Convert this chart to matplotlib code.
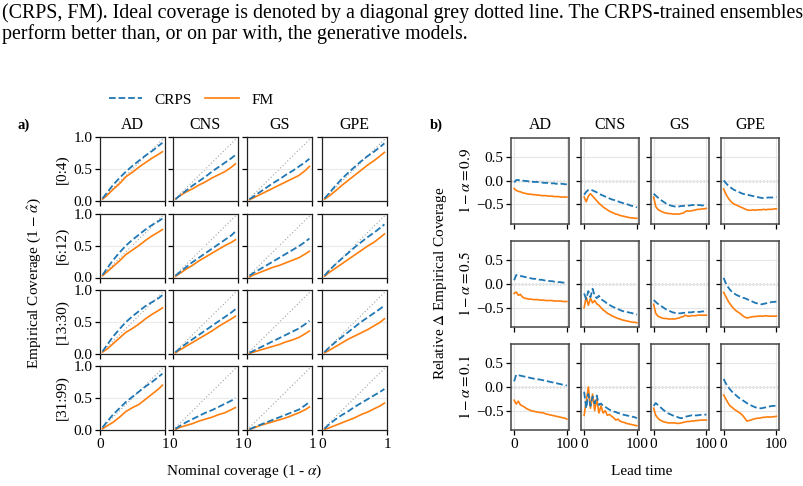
import numpy as np
import matplotlib
matplotlib.use("Agg")
import matplotlib.pyplot as plt
from matplotlib.lines import Line2D

plt.rcParams['font.family'] = ['Liberation Serif', 'DejaVu Serif']
plt.rcParams['mathtext.fontset'] = 'stix'
plt.rcParams['axes.unicode_minus'] = True

# ---------------- data ----------------
systems = ["AD", "CNS", "GS", "GPE"]
lead_bins = ["[0:4)", "[6:12)", "[13:30)", "[31:99)"]
nominal = [0.04, 0.1, 0.2, 0.3, 0.4, 0.5, 0.6, 0.7, 0.8, 0.9, 0.96]

# coverage curves: [lead bin][system]
cov_crps = [
    [[0.04, 0.12, 0.25, 0.36, 0.46, 0.55, 0.63, 0.71, 0.78, 0.86, 0.91],
     [0.03, 0.08, 0.16, 0.24, 0.31, 0.38, 0.46, 0.53, 0.60, 0.67, 0.72],
     [0.03, 0.07, 0.14, 0.21, 0.28, 0.34, 0.41, 0.47, 0.54, 0.61, 0.66],
     [0.04, 0.11, 0.23, 0.34, 0.44, 0.53, 0.62, 0.70, 0.77, 0.85, 0.90]],
    [[0.04, 0.13, 0.27, 0.39, 0.50, 0.59, 0.67, 0.75, 0.82, 0.88, 0.92],
     [0.03, 0.08, 0.16, 0.24, 0.31, 0.38, 0.45, 0.52, 0.59, 0.66, 0.72],
     [0.03, 0.07, 0.13, 0.19, 0.25, 0.31, 0.37, 0.43, 0.49, 0.56, 0.61],
     [0.03, 0.10, 0.20, 0.29, 0.38, 0.47, 0.55, 0.63, 0.70, 0.78, 0.83]],
    [[0.04, 0.13, 0.27, 0.39, 0.50, 0.59, 0.67, 0.75, 0.81, 0.87, 0.92],
     [0.03, 0.08, 0.16, 0.23, 0.30, 0.37, 0.44, 0.51, 0.58, 0.65, 0.70],
     [0.02, 0.05, 0.10, 0.15, 0.20, 0.25, 0.30, 0.35, 0.40, 0.47, 0.52],
     [0.03, 0.09, 0.18, 0.26, 0.34, 0.42, 0.50, 0.57, 0.64, 0.71, 0.76]],
    [[0.04, 0.12, 0.24, 0.34, 0.44, 0.52, 0.60, 0.68, 0.75, 0.83, 0.88],
     [0.02, 0.06, 0.12, 0.17, 0.22, 0.27, 0.31, 0.36, 0.41, 0.46, 0.50],
     [0.01, 0.04, 0.08, 0.12, 0.16, 0.20, 0.24, 0.28, 0.32, 0.39, 0.44],
     [0.02, 0.08, 0.16, 0.23, 0.29, 0.36, 0.42, 0.48, 0.54, 0.60, 0.64]],
]
cov_fm = [
    [[0.03, 0.08, 0.18, 0.27, 0.38, 0.45, 0.53, 0.60, 0.67, 0.73, 0.77],
     [0.03, 0.08, 0.14, 0.19, 0.25, 0.30, 0.36, 0.41, 0.46, 0.53, 0.58],
     [0.02, 0.05, 0.10, 0.15, 0.20, 0.25, 0.30, 0.35, 0.40, 0.48, 0.54],
     [0.03, 0.07, 0.15, 0.24, 0.32, 0.40, 0.48, 0.56, 0.63, 0.71, 0.76]],
    [[0.03, 0.08, 0.17, 0.26, 0.36, 0.43, 0.50, 0.58, 0.65, 0.71, 0.75],
     [0.02, 0.06, 0.13, 0.19, 0.26, 0.32, 0.38, 0.44, 0.50, 0.55, 0.59],
     [0.01, 0.04, 0.08, 0.12, 0.16, 0.19, 0.23, 0.27, 0.31, 0.37, 0.41],
     [0.02, 0.07, 0.14, 0.21, 0.28, 0.35, 0.42, 0.49, 0.55, 0.63, 0.68]],
    [[0.03, 0.07, 0.16, 0.25, 0.34, 0.40, 0.47, 0.55, 0.62, 0.68, 0.72],
     [0.02, 0.06, 0.12, 0.18, 0.24, 0.30, 0.36, 0.43, 0.49, 0.55, 0.59],
     [0.01, 0.03, 0.06, 0.09, 0.12, 0.15, 0.19, 0.22, 0.26, 0.32, 0.36],
     [0.02, 0.05, 0.11, 0.17, 0.23, 0.28, 0.33, 0.38, 0.44, 0.50, 0.55]],
    [[0.02, 0.06, 0.12, 0.20, 0.29, 0.35, 0.40, 0.48, 0.56, 0.64, 0.70],
     [0.01, 0.04, 0.07, 0.10, 0.14, 0.17, 0.20, 0.24, 0.27, 0.32, 0.35],
     [0.01, 0.03, 0.07, 0.10, 0.13, 0.16, 0.19, 0.23, 0.27, 0.32, 0.36],
     [0.01, 0.03, 0.07, 0.11, 0.15, 0.19, 0.24, 0.28, 0.33, 0.38, 0.42]],
]

levels = ["$1-\\alpha=0.9$", "$1-\\alpha=0.5$", "$1-\\alpha=0.1$"]
lead = [0, 4, 8, 12, 16, 20, 24, 28, 32, 36, 40, 44, 48, 52, 56, 60,
        64, 68, 72, 76, 80, 84, 88, 92, 96, 100]

# relative delta coverage: [level][system]
rel_crps = [
    [[-0.04, 0.01, 0.01, 0.00, 0.00, -0.01, -0.01, -0.02, -0.02, -0.03, -0.03, -0.03, -0.04, -0.04, -0.05, -0.05, -0.05, -0.06, -0.06, -0.06, -0.07, -0.07, -0.07, -0.07, -0.08, -0.08],
     [-0.30, -0.24, -0.20, -0.19, -0.21, -0.23, -0.25, -0.28, -0.30, -0.32, -0.34, -0.36, -0.38, -0.40, -0.41, -0.43, -0.44, -0.46, -0.47, -0.49, -0.50, -0.51, -0.53, -0.54, -0.55, -0.57],
     [-0.28, -0.32, -0.36, -0.40, -0.43, -0.46, -0.49, -0.51, -0.53, -0.54, -0.55, -0.55, -0.55, -0.54, -0.54, -0.53, -0.53, -0.53, -0.52, -0.52, -0.53, -0.52, -0.52, -0.53, -0.52, -0.52],
     [0.00, -0.05, -0.10, -0.14, -0.17, -0.20, -0.22, -0.24, -0.26, -0.28, -0.29, -0.30, -0.31, -0.32, -0.33, -0.34, -0.35, -0.36, -0.37, -0.37, -0.37, -0.36, -0.36, -0.36, -0.35, -0.35]],
    [[0.08, 0.19, 0.18, 0.17, 0.16, 0.15, 0.14, 0.13, 0.12, 0.11, 0.11, 0.10, 0.09, 0.09, 0.08, 0.07, 0.07, 0.06, 0.06, 0.05, 0.05, 0.04, 0.04, 0.03, 0.03, 0.02],
     [-0.20, -0.32, -0.15, -0.28, -0.10, -0.25, -0.30, -0.25, -0.32, -0.35, -0.38, -0.42, -0.44, -0.47, -0.49, -0.51, -0.53, -0.55, -0.57, -0.58, -0.59, -0.60, -0.61, -0.62, -0.63, -0.65],
     [-0.34, -0.38, -0.42, -0.45, -0.48, -0.51, -0.54, -0.56, -0.58, -0.60, -0.61, -0.62, -0.62, -0.62, -0.61, -0.61, -0.60, -0.60, -0.60, -0.59, -0.59, -0.59, -0.59, -0.58, -0.58, -0.58],
     [0.13, 0.02, -0.06, -0.12, -0.17, -0.20, -0.23, -0.25, -0.27, -0.29, -0.30, -0.32, -0.34, -0.36, -0.38, -0.40, -0.41, -0.42, -0.43, -0.42, -0.41, -0.40, -0.39, -0.38, -0.38, -0.37]],
    [[0.12, 0.26, 0.25, 0.24, 0.23, 0.22, 0.21, 0.20, 0.19, 0.18, 0.17, 0.16, 0.16, 0.15, 0.14, 0.13, 0.12, 0.11, 0.10, 0.09, 0.08, 0.07, 0.06, 0.05, 0.04, 0.03],
     [-0.10, -0.45, -0.15, -0.40, -0.20, -0.35, -0.18, -0.38, -0.35, -0.40, -0.42, -0.45, -0.48, -0.50, -0.52, -0.53, -0.55, -0.56, -0.58, -0.59, -0.60, -0.61, -0.62, -0.63, -0.64, -0.66],
     [-0.40, -0.34, -0.38, -0.42, -0.46, -0.50, -0.53, -0.56, -0.58, -0.60, -0.62, -0.63, -0.65, -0.66, -0.65, -0.63, -0.62, -0.61, -0.60, -0.61, -0.60, -0.60, -0.59, -0.59, -0.59, -0.58],
     [0.17, 0.08, 0.01, -0.05, -0.10, -0.14, -0.18, -0.22, -0.25, -0.28, -0.31, -0.34, -0.37, -0.39, -0.41, -0.43, -0.44, -0.45, -0.45, -0.44, -0.43, -0.42, -0.41, -0.40, -0.40, -0.39]],
]
rel_fm = [
    [[-0.17, -0.21, -0.23, -0.24, -0.26, -0.27, -0.28, -0.29, -0.29, -0.30, -0.30, -0.31, -0.31, -0.32, -0.32, -0.32, -0.33, -0.33, -0.33, -0.34, -0.34, -0.34, -0.35, -0.35, -0.35, -0.35],
     [-0.35, -0.45, -0.33, -0.28, -0.33, -0.38, -0.43, -0.48, -0.52, -0.56, -0.59, -0.62, -0.65, -0.67, -0.69, -0.71, -0.72, -0.74, -0.75, -0.76, -0.77, -0.78, -0.79, -0.79, -0.80, -0.80],
     [-0.35, -0.55, -0.61, -0.64, -0.66, -0.68, -0.69, -0.70, -0.70, -0.71, -0.71, -0.71, -0.71, -0.70, -0.69, -0.66, -0.64, -0.65, -0.64, -0.63, -0.62, -0.61, -0.61, -0.60, -0.60, -0.59],
     [-0.18, -0.28, -0.36, -0.42, -0.47, -0.50, -0.52, -0.54, -0.56, -0.58, -0.60, -0.62, -0.63, -0.63, -0.62, -0.63, -0.62, -0.62, -0.62, -0.61, -0.62, -0.61, -0.61, -0.61, -0.60, -0.60]],
    [[-0.20, -0.17, -0.24, -0.22, -0.28, -0.30, -0.31, -0.32, -0.32, -0.33, -0.33, -0.33, -0.34, -0.34, -0.34, -0.35, -0.35, -0.35, -0.35, -0.36, -0.36, -0.36, -0.36, -0.37, -0.37, -0.37],
     [-0.50, -0.28, -0.45, -0.30, -0.40, -0.35, -0.42, -0.45, -0.50, -0.55, -0.58, -0.62, -0.64, -0.67, -0.69, -0.71, -0.73, -0.74, -0.76, -0.77, -0.78, -0.79, -0.80, -0.81, -0.81, -0.82],
     [-0.43, -0.62, -0.68, -0.70, -0.72, -0.73, -0.73, -0.74, -0.74, -0.74, -0.74, -0.73, -0.72, -0.70, -0.69, -0.66, -0.68, -0.68, -0.67, -0.67, -0.67, -0.66, -0.66, -0.66, -0.66, -0.66],
     [-0.18, -0.26, -0.35, -0.42, -0.48, -0.53, -0.57, -0.60, -0.63, -0.67, -0.70, -0.72, -0.71, -0.70, -0.69, -0.69, -0.68, -0.68, -0.68, -0.68, -0.67, -0.68, -0.68, -0.68, -0.68, -0.68]],
    [[-0.28, -0.36, -0.30, -0.38, -0.40, -0.43, -0.46, -0.48, -0.50, -0.51, -0.52, -0.53, -0.54, -0.54, -0.55, -0.57, -0.58, -0.59, -0.60, -0.61, -0.62, -0.63, -0.64, -0.65, -0.66, -0.68],
     [-0.60, -0.30, 0.00, -0.45, -0.15, -0.50, -0.25, -0.55, -0.40, -0.55, -0.50, -0.60, -0.58, -0.62, -0.65, -0.70, -0.68, -0.72, -0.74, -0.75, -0.77, -0.78, -0.79, -0.80, -0.81, -0.82],
     [-0.45, -0.60, -0.66, -0.70, -0.72, -0.74, -0.75, -0.76, -0.76, -0.76, -0.76, -0.77, -0.77, -0.76, -0.75, -0.74, -0.73, -0.73, -0.72, -0.72, -0.71, -0.71, -0.70, -0.70, -0.70, -0.70],
     [-0.17, -0.25, -0.33, -0.40, -0.43, -0.47, -0.50, -0.53, -0.56, -0.60, -0.66, -0.72, -0.71, -0.70, -0.68, -0.67, -0.66, -0.66, -0.65, -0.64, -0.64, -0.63, -0.64, -0.63, -0.63, -0.62]],
]

caption_lines = [
    "(CRPS, FM). Ideal coverage is denoted by a diagonal grey dotted line. The CRPS-trained ensembles",
    "perform better than, or on par with, the generative models.",
]

C_CRPS = "#1f77b4"
C_FM = "#ff7f0e"

# ---------------- figure ----------------
W, H = 804, 486
fig = plt.figure(figsize=(W / 100, H / 100), dpi=100)


def px_axes(left, top, width, height):
    return fig.add_axes([left / W, 1 - (top + height) / H, width / W, height / H])


TICK_FS = 11
TITLE_FS = 11.5
LABEL_FS = 11

# left panel (a)
l_lefts = [100, 173, 247, 322]
l_tops = [137, 213.5, 290, 366]
l_w, l_h = 65, 64
for r in range(4):
    for c in range(4):
        ax = px_axes(l_lefts[c], l_tops[r], l_w, l_h)
        ax.plot([0, 1], [0, 1], ls=(0, (1, 2)), color="#a0a0a0", lw=0.8, zorder=1)
        ax.plot(nominal, cov_crps[r][c], ls="--", color=C_CRPS, lw=1.3, zorder=3)
        ax.plot(nominal, cov_fm[r][c], ls="-", color=C_FM, lw=1.2, zorder=2)
        ax.set_xlim(0, 1)
        ax.set_ylim(0, 1)
        ax.set_xticks([0, 1])
        ax.set_xticklabels(["0", "1"])
        ax.set_yticks([0, 0.5, 1.0])
        ax.set_yticklabels(["0.0", "0.5", "1.0"])
        ax.grid(True, axis="y", color="#ebebeb", lw=0.8, zorder=0)
        ax.tick_params(labelsize=TICK_FS, length=3.5, width=0.9, pad=2)
        for s in ax.spines.values():
            s.set_linewidth(0.9)
            s.set_color("#222222")
        if c != 0:
            ax.tick_params(labelleft=False)
        else:
            ax.set_ylabel(lead_bins[r], fontsize=LABEL_FS, labelpad=3)
        if r != 3:
            ax.tick_params(labelbottom=False)
        if r == 0:
            ax.set_title(systems[c], fontsize=TITLE_FS, pad=6)

# right panel (b)
r_lefts = [511.5, 581.5, 651, 721]
r_tops = [137.5, 241, 344]
r_w, r_h = 58, 86
for r in range(3):
    for c in range(4):
        ax = px_axes(r_lefts[c], r_tops[r], r_w, r_h)
        ax.axhline(0, ls=(0, (1, 1.5)), color="#555555", lw=1.0, zorder=1)
        ax.plot(lead, rel_crps[r][c], ls="--", color=C_CRPS, lw=1.3, zorder=3)
        ax.plot(lead, rel_fm[r][c], ls="-", color=C_FM, lw=1.2, zorder=2)
        ax.set_xlim(-5, 105)
        ax.set_ylim(-0.91, 0.91)
        ax.set_xticks([0, 100])
        ax.set_xticklabels(["0", "100"])
        ax.set_yticks([-0.5, 0.0, 0.5])
        ax.grid(True, color="#e6e6e6", lw=0.8, zorder=0)
        ax.tick_params(labelsize=TICK_FS, length=3.5, width=0.9, pad=2)
        for s in ax.spines.values():
            s.set_linewidth(1.1)
            s.set_color("#444444")
        if c != 0:
            ax.tick_params(labelleft=False)
        else:
            ax.set_ylabel(levels[r], fontsize=LABEL_FS, labelpad=2)
        if r != 2:
            ax.tick_params(labelbottom=False)
        if r == 0:
            ax.set_title(systems[c], fontsize=TITLE_FS, pad=6)

# figure-level labels
fig.text(34 / W, 1 - 283 / H, "Empirical Coverage (1 $-$ $\\hat{\\alpha}$)",
         rotation=90, ha="center", va="center", fontsize=LABEL_FS)
fig.text(244 / W, 1 - 471 / H, "Nominal coverage (1 - $\\alpha$)",
         ha="center", va="center", fontsize=LABEL_FS)
fig.text(441 / W, 1 - 283 / H, "Relative $\\Delta$ Empirical Coverage",
         rotation=90, ha="center", va="center", fontsize=LABEL_FS)
fig.text(642 / W, 1 - 471 / H, "Lead time",
         ha="center", va="center", fontsize=LABEL_FS)
fig.text(24 / W, 1 - 125 / H, "a)", ha="center", va="center",
         fontsize=10.5, fontweight="bold")
fig.text(436 / W, 1 - 125 / H, "b)", ha="center", va="center",
         fontsize=10.5, fontweight="bold")

handles = [Line2D([], [], ls="--", color=C_CRPS, lw=1.3),
           Line2D([], [], ls="-", color=C_FM, lw=1.2)]
fig.legend(handles, ["CRPS", "FM"], loc="center", ncol=2, frameon=False,
           bbox_to_anchor=(191 / W, 1 - 100 / H), fontsize=LABEL_FS,
           handlelength=2.2, columnspacing=0.9, handletextpad=0.8)

# caption text above the figure
fig.text(2 / W, 1 - 13 / H, caption_lines[0], ha="left", va="center", fontsize=14.3)
fig.text(2 / W, 1 - 34 / H, caption_lines[1], ha="left", va="center", fontsize=14.3)

fig.savefig("out.png", dpi=100)
